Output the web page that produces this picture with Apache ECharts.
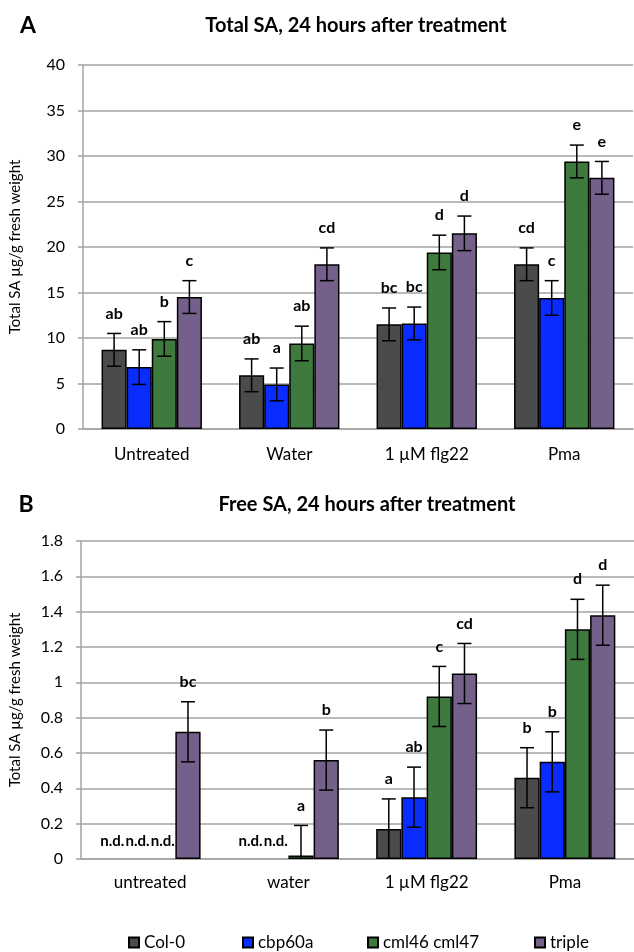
<!DOCTYPE html>
<html><head><meta charset="utf-8">
<script src="https://cdn.jsdelivr.net/npm/echarts@6/dist/echarts.min.js"></script>
<style>html,body{margin:0;padding:0;background:#fff}#c{width:634px;height:952px}</style>
</head><body><div id="c"></div>
<script>
// ---- data ----
const seriesNames = ['Col-0', 'cbp60a', 'cml46 cml47', 'triple'];
const seriesColors = ['#4b4b4b', '#0a2cff', '#3e7a3e', '#74608b'];
const catsA = ['Untreated', 'Water', '1 µM flg22', 'Pma'];
const catsB = ['untreated', 'water', '1 µM flg22', 'Pma'];
const ticksA = { min: 0, max: 40, interval: 5 };
const ticksB = { min: 0, max: 1.8, interval: 0.2 };

// Panel A: Total SA
const totalCol0 = [8.7, 5.9, 11.5, 18.1];
const totalCbp60a = [6.8, 4.9, 11.6, 14.4];
const totalCml = [9.9, 9.4, 19.4, 29.4];
const totalTriple = [14.5, 18.1, 21.5, 27.6];
const totalErrCol0 = [1.8, 1.8, 1.8, 1.8];
const totalErrCbp60a = [1.9, 1.8, 1.8, 1.9];
const totalErrCml = [1.9, 1.9, 1.9, 1.8];
const totalErrTriple = [1.8, 1.8, 1.9, 1.8];
const totalLetCol0 = ['ab', 'ab', 'bc', 'cd'];
const totalLetCbp60a = ['ab', 'a', 'bc', 'c'];
const totalLetCml = ['b', 'ab', 'd', 'e'];
const totalLetTriple = ['c', 'cd', 'd', 'e'];

// Panel B: Free SA (null = not detected)
const freeCol0 = [null, null, 0.17, 0.46];
const freeCbp60a = [null, null, 0.35, 0.55];
const freeCml = [null, 0.02, 0.92, 1.30];
const freeTriple = [0.72, 0.56, 1.05, 1.38];
const freeErrCol0 = [null, null, 0.17, 0.17];
const freeErrCbp60a = [null, null, 0.17, 0.17];
const freeErrCml = [null, 0.17, 0.17, 0.17];
const freeErrTriple = [0.17, 0.17, 0.17, 0.17];
const freeLetCol0 = ['n.d.', 'n.d.', 'a', 'b'];
const freeLetCbp60a = ['n.d.', 'n.d.', 'ab', 'b'];
const freeLetCml = ['n.d.', 'a', 'c', 'd'];
const freeLetTriple = ['bc', 'b', 'cd', 'd'];

// ---- build ----
const FONT = 'Lato, "Open Sans", sans-serif';
const GAP = 0.27;
const valsA = [totalCol0, totalCbp60a, totalCml, totalTriple];
const errsA = [totalErrCol0, totalErrCbp60a, totalErrCml, totalErrTriple];
const letsA = [totalLetCol0, totalLetCbp60a, totalLetCml, totalLetTriple];
const valsB = [freeCol0, freeCbp60a, freeCml, freeTriple];
const errsB = [freeErrCol0, freeErrCbp60a, freeErrCml, freeErrTriple];
const letsB = [freeLetCol0, freeLetCbp60a, freeLetCml, freeLetTriple];

function buildItems(vals, errs, lets) {
  const items = [];
  vals.forEach((arr, s) => arr.forEach((v, c) => {
    const e = errs[s][c];
    const nd = v == null;
    items.push({ value: [c, s, nd ? 0 : v, nd ? 0 : e, nd ? 1 : 0, nd ? 0 : v + e], letter: lets[s][c] });
  }));
  return items;
}
const itemsA = buildItems(valsA, errsA, letsA);
const itemsB = buildItems(valsB, errsB, letsB);

function makeRender(items) {
  return function (params, api) {
    const it = items[params.dataIndex];
    const c = api.value(0), s = api.value(1), v = api.value(2), e = api.value(3), nd = api.value(4);
    const band = api.size([1, 0])[0];
    const bw = band * (1 - GAP) / 4;
    const base = api.coord([c, 0]);
    const x = base[0] + (s - 1.5) * bw;
    const children = [];
    const txtStyle = (y, size) => ({ x: x, y: y, text: it.letter, fill: '#000', font: 'bold ' + size + 'px ' + FONT, textAlign: 'center', textVerticalAlign: 'middle' });
    if (nd) {
      children.push({ type: 'text', style: txtStyle(base[1] - 18, 15) });
    } else {
      const top = api.coord([c, v + e])[1];
      const lowV = Math.max(0, v - e);
      const bot = api.coord([c, lowV])[1];
      const cap = 7;
      const ls = { stroke: '#000', lineWidth: 1.5 };
      children.push({ type: 'line', shape: { x1: x, y1: top, x2: x, y2: bot }, style: ls });
      children.push({ type: 'line', shape: { x1: x - cap, y1: top, x2: x + cap, y2: top }, style: ls });
      if (v - e > 0) children.push({ type: 'line', shape: { x1: x - cap, y1: bot, x2: x + cap, y2: bot }, style: ls });
      children.push({ type: 'text', style: txtStyle(top - 20, 16) });
    }
    return { type: 'group', children: children };
  };
}

const gridColor = '#a3a3a3';
function yAxisCfg(idx, t, nameGap) {
  return {
    type: 'value', gridIndex: idx, min: t.min, max: t.max, interval: t.interval,
    name: 'Total SA µg/g fresh weight', nameLocation: 'middle', nameRotate: 90, nameGap: nameGap,
    nameTextStyle: { fontFamily: FONT, fontSize: 15, color: '#000' },
    axisLine: { show: true, lineStyle: { color: gridColor, width: 1.5 } },
    axisTick: { show: true, length: 5, lineStyle: { color: gridColor, width: 1.5 } },
    axisLabel: { fontFamily: FONT, fontSize: 16, color: '#000', margin: 18, formatter: v => String(+v.toFixed(1)) },
    splitLine: { show: true, lineStyle: { color: gridColor, width: 1.5 } }
  };
}
function xAxisCfg(idx, cats, margin) {
  return {
    type: 'category', gridIndex: idx, data: cats,
    axisLine: { show: true, lineStyle: { color: gridColor, width: 1.5 } },
    axisTick: { show: false },
    axisLabel: { fontFamily: FONT, fontSize: 17, color: '#000', margin: margin }
  };
}

const series = [];
[valsA, valsB].forEach((vals, g) => {
  vals.forEach((arr, s) => {
    series.push({
      type: 'bar', name: seriesNames[s], xAxisIndex: g, yAxisIndex: g,
      data: arr.map(v => v == null ? '-' : v),
      barGap: '0%', barCategoryGap: (GAP * 100) + '%',
      itemStyle: { color: seriesColors[s], borderColor: '#000', borderWidth: 1.5 },
      emphasis: { disabled: true }
    });
  });
});
series.push({ type: 'custom', xAxisIndex: 0, yAxisIndex: 0, data: itemsA, encode: { x: 0, y: 5 }, renderItem: makeRender(itemsA), z: 10, silent: true });
series.push({ type: 'custom', xAxisIndex: 1, yAxisIndex: 1, data: itemsB, encode: { x: 0, y: 5 }, renderItem: makeRender(itemsB), z: 10, silent: true });

const legendLefts = [123, 237, 362, 529];
const legends = seriesNames.map((n, i) => ({
  data: [n], left: legendLefts[i], top: 929, orient: 'horizontal',
  itemWidth: 10, itemHeight: 10, icon: 'rect', selectedMode: false,
  textStyle: { fontFamily: FONT, fontSize: 17, color: '#000' }
}));

const option = {
  animation: false,
  backgroundColor: '#fff',
  grid: [
    { left: 82, right: 1, top: 65, height: 364, containLabel: false },
    { left: 78, right: -7, top: 541, height: 318, containLabel: false }
  ],
  xAxis: [xAxisCfg(0, catsA, 17), xAxisCfg(1, catsB, 15)],
  yAxis: [yAxisCfg(0, ticksA, 60), yAxisCfg(1, ticksB, 58)],
  legend: legends,
  graphic: [
    { type: 'text', x: 28, y: 26, style: { text: 'A', font: 'bold 23px ' + FONT, fill: '#000', textAlign: 'center', textVerticalAlign: 'middle' } },
    { type: 'text', x: 356, y: 26, style: { text: 'Total SA, 24 hours after treatment', font: 'bold 20px ' + FONT, fill: '#000', textAlign: 'center', textVerticalAlign: 'middle' } },
    { type: 'text', x: 26, y: 505, style: { text: 'B', font: 'bold 23px ' + FONT, fill: '#000', textAlign: 'center', textVerticalAlign: 'middle' } },
    { type: 'text', x: 367, y: 505, style: { text: 'Free SA, 24 hours after treatment', font: 'bold 20px ' + FONT, fill: '#000', textAlign: 'center', textVerticalAlign: 'middle' } }
  ],
  series: series
};
const chart = echarts.init(document.getElementById('c'), null, { renderer: 'canvas' });
chart.setOption(option);
</script></body></html>
